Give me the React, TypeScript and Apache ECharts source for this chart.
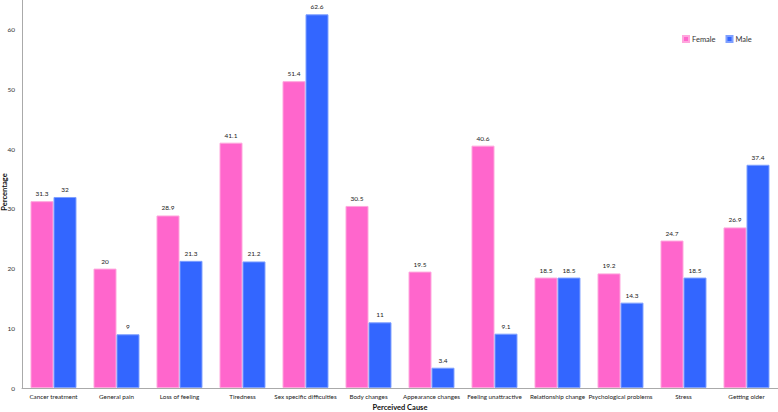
import React, { useEffect, useRef } from "react";
import * as echarts from "echarts";

const categories = [
  "Cancer treatment",
  "General pain",
  "Loss of feeling",
  "Tiredness",
  "Sex specific difficulties",
  "Body changes",
  "Appearance changes",
  "Feeling unattractive",
  "Relationship change",
  "Psychological problems",
  "Stress",
  "Getting older",
];
const female = [31.3, 20, 28.9, 41.1, 51.4, 30.5, 19.5, 40.6, 18.5, 19.2, 24.7, 26.9];
const male = [32, 9, 21.3, 21.2, 62.6, 11, 3.4, 9.1, 18.5, 14.3, 18.5, 37.4];

const FONT = "Lato, 'Open Sans', 'DejaVu Sans', sans-serif";

export default function App() {
  const ref = useRef<HTMLDivElement>(null);
  useEffect(() => {
    if (!ref.current) return;
    const chart = echarts.init(ref.current, undefined, { renderer: "svg" });
    const labelStyle = {
      show: true,
      position: "top" as const,
      distance: 4,
      fontSize: 6.5,
      color: "#222",
      fontFamily: FONT,
    };
    chart.setOption({
      animation: false,
      textStyle: { fontFamily: FONT },
      grid: { left: 22, right: 0, top: 0, bottom: 24, containLabel: false, outerBoundsMode: "none" },
      legend: {
        left: 677,
        top: 30,
        itemWidth: 6,
        itemHeight: 6,
        itemGap: 10,
        icon: "rect",
        textStyle: { fontSize: 7.5, color: "#333", fontFamily: FONT, padding: [0, 0, 0, -2] },
        data: ["Female", "Male"],
      },
      graphic: [
        {
          type: "text",
          x: 4,
          y: 192,
          rotation: Math.PI / 2,
          style: {
            text: "Percentage",
            align: "center",
            verticalAlign: "middle",
            fontSize: 7.5,
            fontWeight: "bold",
            fill: "#111",
            fontFamily: FONT,
          },
        },
      ],
      xAxis: {
        type: "category",
        data: categories,
        name: "Perceived Cause",
        nameLocation: "middle",
        nameGap: 15,
        nameTextStyle: { fontSize: 7.5, fontWeight: "bold", color: "#111", fontFamily: FONT },
        axisLine: { lineStyle: { color: "#aaa", width: 1 } },
        axisTick: { show: false },
        axisLabel: { fontSize: 6.3, color: "#222", margin: 5, interval: 0, fontFamily: FONT },
      },
      yAxis: {
        type: "value",
        min: 0,
        max: 65,
        interval: 10,
        axisLine: { show: true, lineStyle: { color: "#aaa", width: 1 } },
        axisTick: { show: false },
        splitLine: { show: false },
        axisLabel: { fontSize: 6.5, color: "#333", margin: 7, showMaxLabel: false, fontFamily: FONT },
      },
      series: [
        {
          name: "Female",
          type: "bar",
          data: female,
          barGap: "0%",
          barCategoryGap: "27%",
          itemStyle: { color: "#FF66CC", borderColor: "#FFA6DD", borderWidth: 1 },
          label: labelStyle,
        },
        {
          name: "Male",
          type: "bar",
          data: male,
          barGap: "0%",
          barCategoryGap: "27%",
          itemStyle: { color: "#3366FF", borderColor: "#7FA0FF", borderWidth: 1 },
          label: labelStyle,
        },
      ],
    });
    return () => chart.dispose();
  }, []);
  return (
    <div
      ref={ref}
      style={{ position: "fixed", left: 0, top: 0, width: 778, height: 412, background: "#fff" }}
    />
  );
}
